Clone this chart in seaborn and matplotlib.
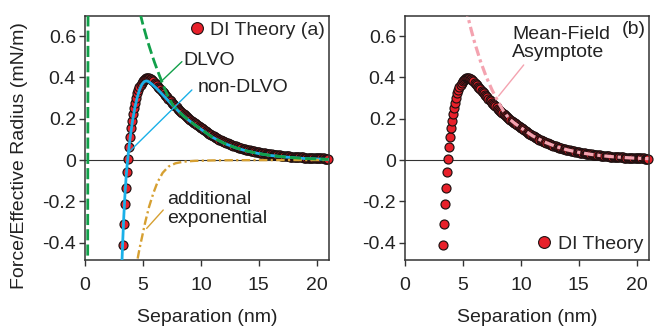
import matplotlib
matplotlib.use("Agg")
import matplotlib.pyplot as plt
import seaborn as sns
from matplotlib.lines import Line2D

# ---------------- data ----------------
di_x = [3.30, 3.36, 3.44, 3.52, 3.61, 3.71, 3.80, 3.89, 3.98, 4.07, 4.16, 4.25,
        4.34, 4.43, 4.52, 4.61, 4.70, 4.79, 4.88, 4.97, 5.06, 5.15, 5.24, 5.33,
        5.42, 5.51,
        5.6, 5.7, 5.8, 5.9, 6.0, 6.1, 6.2, 6.3, 6.4, 6.5, 6.6, 6.7, 6.8, 6.9,
        7.0, 7.1, 7.2, 7.3, 7.4, 7.5, 7.6, 7.7, 7.8, 7.9, 8.0, 8.1, 8.2, 8.3,
        8.4, 8.5, 8.6, 8.7, 8.8, 8.9, 9.0, 9.1, 9.2, 9.3, 9.4, 9.5, 9.6, 9.7,
        9.8, 9.9, 10.0, 10.1, 10.2, 10.3, 10.4, 10.5, 10.6, 10.7, 10.8, 10.9,
        11.0, 11.1, 11.2, 11.3, 11.4, 11.5, 11.6, 11.7, 11.8, 11.9, 12.0, 12.1,
        12.2, 12.3, 12.4, 12.5, 12.6, 12.7, 12.8, 12.9, 13.0, 13.1, 13.2, 13.3,
        13.4, 13.5, 13.6, 13.7, 13.8, 13.9, 14.0, 14.1, 14.2, 14.3, 14.4, 14.5,
        14.6, 14.7, 14.8, 14.9, 15.0, 15.1, 15.2, 15.3, 15.4, 15.5, 15.6, 15.7,
        15.8, 15.9, 16.0, 16.1, 16.2, 16.3, 16.4, 16.5, 16.6, 16.7, 16.8, 16.9,
        17.0, 17.1, 17.2, 17.3, 17.4, 17.5, 17.6, 17.7, 17.8, 17.9, 18.0, 18.1,
        18.2, 18.3, 18.4, 18.5, 18.6, 18.7, 18.8, 18.9, 19.0, 19.1, 19.2, 19.3,
        19.4, 19.5, 19.6, 19.7, 19.8, 19.9, 20.0, 20.1, 20.2, 20.3, 20.4, 20.5,
        20.6, 20.7, 20.8, 20.9, 21.0]
di_y = [-0.410, -0.310, -0.215, -0.135, -0.060, 0.005, 0.062, 0.112, 0.153, 0.189,
        0.222, 0.252, 0.278, 0.301, 0.322, 0.339, 0.353, 0.365, 0.375, 0.383,
        0.389, 0.393, 0.396, 0.397, 0.397, 0.395,
        0.393, 0.390, 0.385, 0.380, 0.374, 0.368, 0.362, 0.355, 0.348, 0.342,
        0.335, 0.329, 0.323, 0.316, 0.310, 0.304, 0.297, 0.291, 0.284, 0.278,
        0.272, 0.266, 0.260, 0.255, 0.249, 0.244, 0.238, 0.233, 0.227, 0.222,
        0.217, 0.212, 0.207, 0.203, 0.198, 0.194, 0.189, 0.185, 0.181, 0.177,
        0.173, 0.169, 0.165, 0.161, 0.157, 0.1525, 0.1481, 0.1439, 0.1398, 0.1358,
        0.1319, 0.1281, 0.1245, 0.1209, 0.1175, 0.1141, 0.1108, 0.1077, 0.1046,
        0.1016, 0.0987, 0.0959, 0.0931, 0.0905, 0.0879, 0.0854, 0.0829, 0.0806,
        0.0783, 0.0760, 0.0739, 0.0718, 0.0697, 0.0677, 0.0658, 0.0639, 0.0621,
        0.0603, 0.0586, 0.0569, 0.0553, 0.0537, 0.0522, 0.0507, 0.0492, 0.0478,
        0.0465, 0.0451, 0.0439, 0.0426, 0.0414, 0.0402, 0.0391, 0.0379, 0.0369,
        0.0358, 0.0348, 0.0338, 0.0328, 0.0319, 0.0310, 0.0301, 0.0292, 0.0284,
        0.0276, 0.0268, 0.0260, 0.0253, 0.0246, 0.0239, 0.0232, 0.0225, 0.0219,
        0.0212, 0.0206, 0.0200, 0.0195, 0.0189, 0.0184, 0.0179, 0.0174, 0.0169,
        0.0164, 0.0159, 0.0155, 0.0150, 0.0146, 0.0142, 0.0138, 0.0134, 0.0130,
        0.0126, 0.0123, 0.0119, 0.0116, 0.0113, 0.0109, 0.0106, 0.0103, 0.0100,
        0.0098, 0.0095, 0.0092, 0.0090, 0.0087, 0.0085, 0.0082, 0.0080, 0.0078,
        0.0075, 0.0073, 0.0071, 0.0069, 0.0067, 0.0065]

dlvo_x = [0.21, 0.22, 0.23, 0.24, 0.25, 0.26, 0.27, 0.32, 0.42, 0.6, 1.0, 1.5,
          2.0, 2.5, 3.0, 3.5, 4.0, 4.5, 4.8, 5.0, 5.4, 5.8, 6.0, 6.4, 6.8, 7.2,
          7.6, 8.0, 8.5, 9.0, 9.5, 10, 11, 12, 13, 14, 15, 16, 17, 18, 19, 20, 21]
dlvo_y = [-1.5, -1.0, -0.55, -0.1, 0.3, 0.65, 0.95, 1.45, 1.85, 2.1, 2.05, 1.8,
          1.56, 1.34, 1.16, 1.0, 0.87, 0.76, 0.70, 0.655, 0.575, 0.505, 0.472,
          0.412, 0.355, 0.303, 0.265, 0.240, 0.213, 0.190, 0.169, 0.149, 0.110,
          0.081, 0.059, 0.043, 0.031, 0.022, 0.016, 0.011, 0.007, 0.005, 0.003]

nondlvo_x = [3.15, 3.25, 3.35, 3.45, 3.55, 3.65, 3.75, 3.9, 4.1, 4.3, 4.5, 4.7,
             4.9, 5.1, 5.3, 5.5, 5.8, 6.2, 6.6, 7.0, 7.5, 8.0, 8.5, 9.0, 9.5, 10,
             11, 12, 13, 14, 15, 16, 17, 18, 19, 20, 21]
nondlvo_y = [-0.55, -0.40, -0.27, -0.165, -0.08, -0.015, 0.04, 0.11, 0.19, 0.253,
             0.302, 0.340, 0.365, 0.379, 0.383, 0.379, 0.366, 0.345, 0.322, 0.298,
             0.268, 0.240, 0.213, 0.190, 0.169, 0.149, 0.110, 0.081, 0.059, 0.043,
             0.031, 0.022, 0.016, 0.011, 0.007, 0.005, 0.003]

addexp_x = [4.40, 4.52, 4.7, 4.95, 5.2, 5.53, 5.9, 6.25, 6.7, 7.2, 7.8, 8.5, 9.5,
            11, 13, 16, 21]
addexp_y = [-0.56, -0.484, -0.43, -0.365, -0.30, -0.226, -0.16, -0.108, -0.062,
            -0.032, -0.016, -0.008, -0.004, -0.002, -0.001, -0.0005, 0.0]

mf_x = [5.2, 5.4, 5.7, 6.0, 6.5, 7.0, 7.5, 8.0, 8.5, 9.0, 9.5, 10, 11, 12, 13, 14,
        15, 16, 17, 18, 19, 20, 21]
mf_y = [0.74, 0.70, 0.632, 0.570, 0.480, 0.404, 0.340, 0.286, 0.236, 0.199, 0.176,
        0.156, 0.117, 0.088, 0.0658, 0.049, 0.0369, 0.0276, 0.0206, 0.0155, 0.0116,
        0.0087, 0.0065]

xticks = [0, 5, 10, 15, 20]
yticks = [-0.4, -0.2, 0, 0.2, 0.4, 0.6]
ytick_labels = ["-0.4", "-0.2", "0", "0.2", "0.4", "0.6"]

# ---------------- style ----------------
sns.set_theme(style="ticks")
plt.rcParams['font.family'] = ['Liberation Sans', 'DejaVu Sans']
FS = 14
plt.rcParams['font.size'] = FS

RED = "#e8202a"
EDGE = "#1e1010"
GREEN = "#12a04a"
CYAN = "#1ab0e8"
GOLD = "#d6a032"
PINK = "#f4a3b0"
AX = "#333333"
TXT = "#222222"

W, H = 657, 331
fig = plt.figure(figsize=(W / 100, H / 100), dpi=100)
axL = fig.add_axes([85 / W, (H - 260) / H, 244 / W, 244 / H])
axR = fig.add_axes([405 / W, (H - 260) / H, 244 / W, 244 / H])

for ax in (axL, axR):
    ax.set_xlim(0, 21.05)
    ax.set_ylim(-0.484, 0.697)
    ax.set_xticks(xticks)
    ax.set_yticks(yticks)
    ax.set_yticklabels(ytick_labels)
    ax.tick_params(direction='out', length=4.5, width=1.0, color=AX,
                   labelcolor=TXT, labelsize=FS, bottom=True, left=True)
    ax.tick_params(axis='x', pad=7.5)
    ax.tick_params(axis='y', pad=2)
    for s in ax.spines.values():
        s.set_visible(True)
        s.set_color(AX)
        s.set_linewidth(1.1)
    ax.axhline(0, color=AX, lw=0.8, zorder=1)
    ax.set_xlabel("Separation (nm)", fontsize=FS, color=TXT, labelpad=11)
    sns.scatterplot(x=di_x, y=di_y, ax=ax, s=42, color=RED, edgecolor=EDGE,
                    linewidth=0.85, zorder=2, clip_on=False, legend=False)


def dline(ax, x, y, color, lw, dashes, z):
    sns.lineplot(x=x, y=y, ax=ax, color=color, linewidth=lw, estimator=None,
                 sort=False, zorder=z, legend=False)
    ln = ax.lines[-1]
    if dashes is not None:
        ln.set_dashes(dashes)
    return ln


# left panel curves
dline(axL, nondlvo_x, nondlvo_y, CYAN, 2.0, None, 3)
dline(axL, addexp_x, addexp_y, GOLD, 1.7, (3.6, 1.4, 0.9, 1.4), 3)
dline(axL, dlvo_x, dlvo_y, GREEN, 2.0, (4.0, 1.5), 4)

axL.set_ylabel("Force/Effective Radius (mN/m)", fontsize=FS, color=TXT)
axL.yaxis.set_label_coords(-0.235, 0.43)

axL.text(8.45, 0.484, "DLVO", fontsize=FS, color=TXT, ha='left', va='center')
axL.plot([8.36, 6.55], [0.476, 0.379], color=GREEN, lw=1.0, zorder=5)
axL.text(9.74, 0.349, "non-DLVO", fontsize=FS, color=TXT, ha='left', va='center')
axL.plot([9.22, 3.67], [0.339, 0.032], color=CYAN, lw=1.0, zorder=5)
axL.text(7.07, -0.237, "additional\nexponential", fontsize=FS, color=TXT,
         ha='left', va='center', linespacing=1.1)
axL.plot([6.75, 5.32], [-0.242, -0.331], color=GOLD, lw=1.0, zorder=5)

hL = Line2D([], [], marker='o', ls='', markersize=8.5, markerfacecolor=RED,
            markeredgecolor=EDGE, markeredgewidth=0.8)
axL.legend(handles=[hL], labels=["DI Theory (a)"], loc='center right',
           bbox_to_anchor=(0.984, 0.943), borderaxespad=0, borderpad=0,
           handletextpad=0.3, handlelength=0.8, frameon=False, fontsize=FS)

# right panel
dline(axR, mf_x, mf_y, PINK, 2.3, (3.0, 1.2, 1.0, 1.2), 4)
axR.text(9.24, 0.564, "Mean-Field\nAsymptote", fontsize=FS, color=TXT,
         ha='left', va='center', linespacing=1.1)
axR.plot([10.24, 8.08], [0.46, 0.31], color=PINK, lw=1.0, zorder=5)
axR.text(0.988, 0.943, "(b)", transform=axR.transAxes, fontsize=FS,
         color=TXT, ha='right', va='center')
hR = Line2D([], [], marker='o', ls='', markersize=8.5, markerfacecolor=RED,
            markeredgecolor=EDGE, markeredgewidth=0.8)
axR.legend(handles=[hR], labels=["DI Theory"], loc='center right',
           bbox_to_anchor=(0.975, 0.066), borderaxespad=0, borderpad=0,
           handletextpad=0.3, handlelength=0.8, frameon=False, fontsize=FS)

fig.savefig("out.png", dpi=100)
